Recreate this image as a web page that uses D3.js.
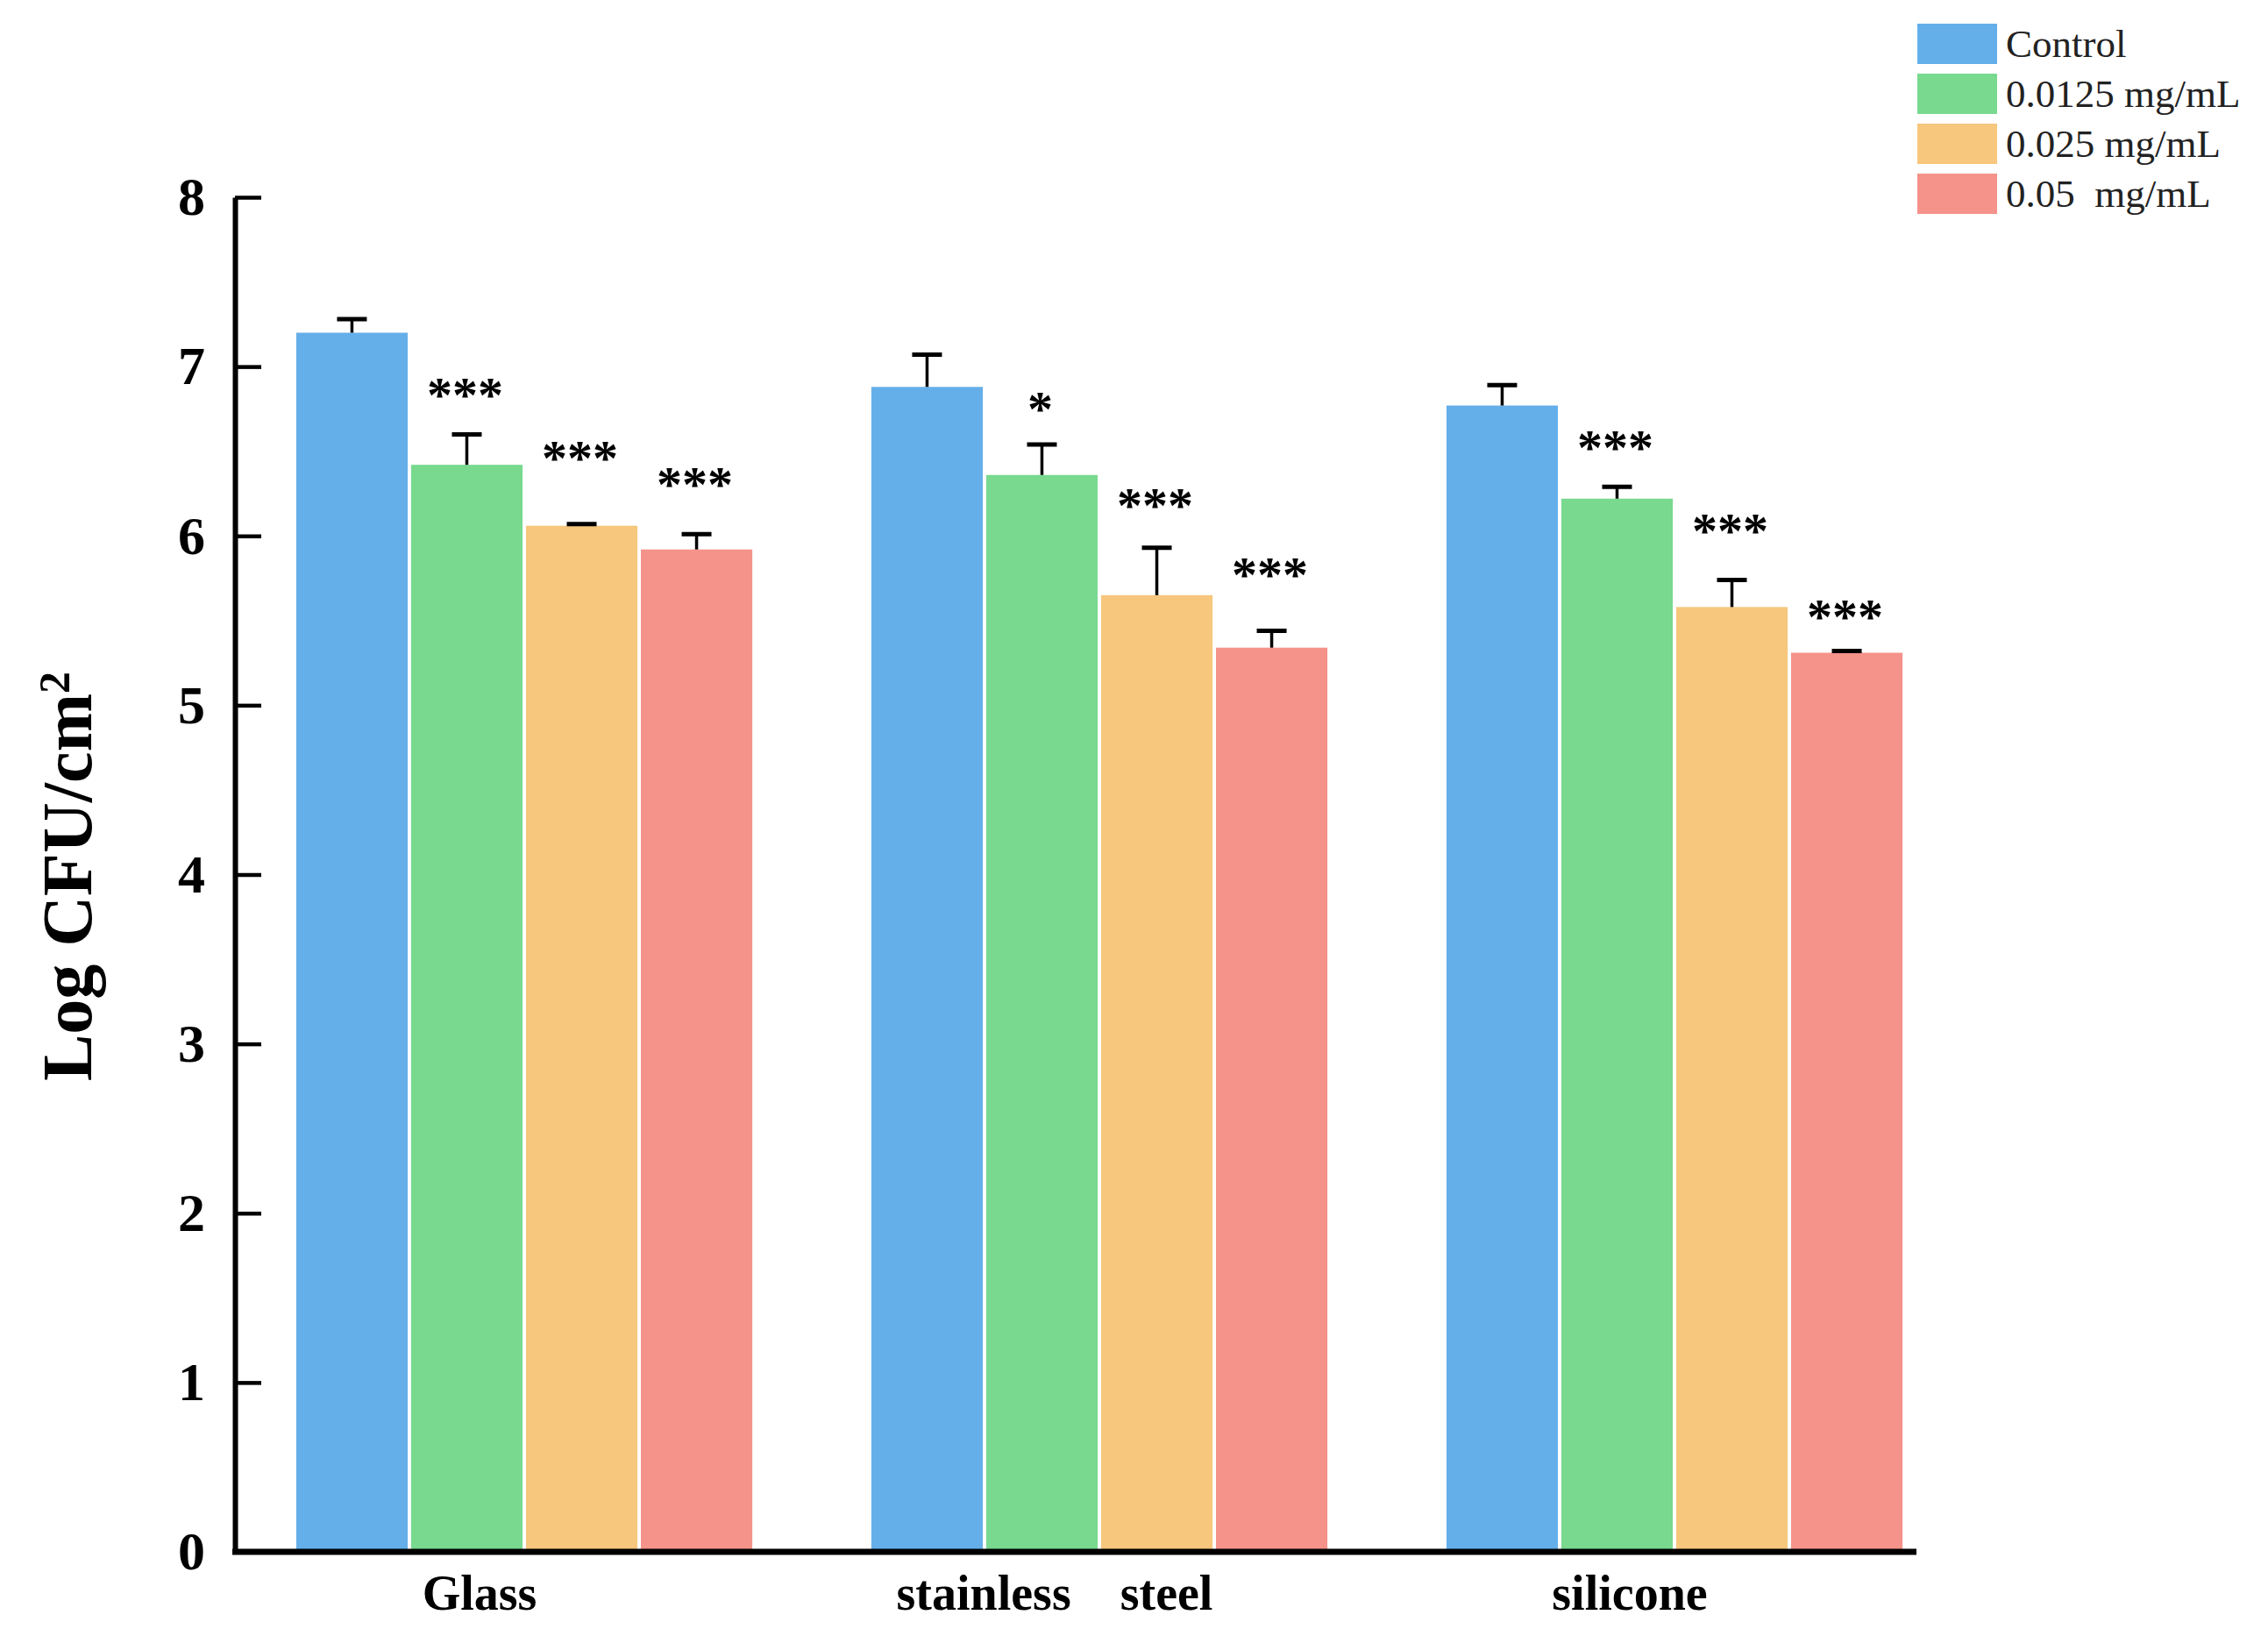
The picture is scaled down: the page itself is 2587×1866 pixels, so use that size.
<!DOCTYPE html>
<html>
<head>
<meta charset="utf-8">
<script src="https://cdn.jsdelivr.net/npm/d3@7"></script>
<style>
  body { margin: 0; background: #fff; }
  text { font-family: "Liberation Serif", "Times New Roman", serif; }
</style>
</head>
<body>
<script>
// data
var surfaces = ["Glass", "stainless    steel", "silicone"];
var groups = ["Control", "0.0125 mg/mL", "0.025 mg/mL", "0.05  mg/mL"];
var means = [
  [7.20, 6.42, 6.06, 5.92],
  [6.88, 6.36, 5.65, 5.34],
  [6.77, 6.22, 5.58, 5.31]
];
var errs = [
  [0.08, 0.18, 0.01, 0.09],
  [0.19, 0.18, 0.28, 0.10],
  [0.12, 0.07, 0.16, 0.01]
];
var stars = [
  ["", "***", "***", "***"],
  ["", "*", "***", "***"],
  ["", "***", "***", "***"]
];
// height (in Log CFU units) of the middle of each star mark
var starLevel = [
  [0, 6.85, 6.48, 6.32],
  [0, 6.77, 6.20, 5.79],
  [0, 6.54, 6.05, 5.54]
];
var yTicks = [0, 1, 2, 3, 4, 5, 6, 7, 8];
var colors = ["#64AFEA", "#78D98F", "#F6C77C", "#F5928A"];

var margin = { top: 225, left: 268 },
  width = 1918,
  height = 1545;

var svg = d3.select("body").append("svg")
    .attr("width", 2587)
    .attr("height", 1866)
  .append("g")
    .attr("transform", "translate(" + margin.left + "," + margin.top + ")");

var x0 = d3.scaleBand()
  .domain(surfaces)
  .range([2, 1970])
  .paddingInner(0.207)
  .paddingOuter(0.1035);
var x1 = d3.scaleBand()
  .domain(d3.range(groups.length))
  .range([0, x0.bandwidth()])
  .paddingInner(0.03);
var y = d3.scaleLinear()
  .domain([0, 8])
  .range([height, 0]);

// bars, error bars and stars
var rows = [];
surfaces.forEach(function(s, i) {
  groups.forEach(function(g, j) {
    rows.push({ s: s, j: j, v: means[i][j], e: errs[i][j], star: stars[i][j], sl: starLevel[i][j] });
  });
});

var cell = svg.selectAll(".cell")
  .data(rows)
  .enter().append("g")
  .attr("transform", function(d) { return "translate(" + (x0(d.s) + x1(d.j)) + ",0)"; });

cell.append("rect")
  .attr("x", 0)
  .attr("y", function(d) { return y(d.v); })
  .attr("width", x1.bandwidth())
  .attr("height", function(d) { return height - y(d.v); })
  .style("fill", function(d) { return colors[d.j]; });

var cx = x1.bandwidth() / 2;
cell.append("line") // stem
  .attr("x1", cx).attr("x2", cx)
  .attr("y1", function(d) { return y(d.v); })
  .attr("y2", function(d) { return y(d.v + d.e); })
  .style("stroke", "#000").style("stroke-width", 3.5);
cell.append("line") // cap
  .attr("x1", cx - 17).attr("x2", cx + 17)
  .attr("y1", function(d) { return y(d.v + d.e); })
  .attr("y2", function(d) { return y(d.v + d.e); })
  .style("stroke", "#000").style("stroke-width", 5);

cell.append("text")
  .text(function(d) { return d.star; })
  .attr("x", cx - 2)
  .attr("y", function(d) { return y(d.sl) + 23; })
  .style("font-size", "58px")
  .style("font-weight", "bold")
  .style("text-anchor", "middle");

// y axis, ticks pointing inward
var yAxis = d3.axisLeft(y).tickValues(yTicks).tickSize(-30).tickSizeOuter(0).tickPadding(34);
var gy = svg.append("g").call(yAxis);
gy.select(".domain").style("stroke-width", 6);
gy.selectAll(".tick line").style("stroke-width", 4.5);
gy.selectAll(".tick text")
  .style("font-size", "62px")
  .style("font-weight", "bold")
  .style("fill", "#000");

// x axis line
svg.append("line")
  .attr("x1", -3).attr("x2", width)
  .attr("y1", height).attr("y2", height)
  .style("stroke", "#000").style("stroke-width", 7);

// x labels
svg.selectAll(".xlab")
  .data(surfaces)
  .enter().append("text")
  .text(function(d) { return d; })
  .attr("x", function(d) { return x0(d) + x0.bandwidth() / 2 - 51; })
  .attr("y", height + 66)
  .style("white-space", "pre")
  .style("font-size", "56px")
  .style("font-weight", "bold")
  .style("text-anchor", "middle");

// y title
var yt = svg.append("text")
  .attr("transform", "translate(-164," + (y(4) + 2) + ") rotate(-90)")
  .style("font-size", "80px")
  .style("font-weight", "bold")
  .style("text-anchor", "middle");
yt.append("tspan").text("Log CFU/cm");
yt.append("tspan").text("2").attr("dy", "-0.5em").style("font-size", "50px");

// legend
var legend = d3.select("svg").append("g")
  .attr("transform", "translate(2187,27)");
var item = legend.selectAll(".item")
  .data(groups)
  .enter().append("g")
  .attr("transform", function(d, i) { return "translate(0," + i * 57 + ")"; });
item.append("rect")
  .attr("width", 91).attr("height", 46)
  .style("fill", function(d, i) { return colors[i]; });
item.append("text")
  .text(function(d) { return d; })
  .attr("x", 101)
  .attr("y", 38)
  .style("white-space", "pre")
  .style("font-size", "45px")
  .style("fill", "#222");
</script>
</body>
</html>
